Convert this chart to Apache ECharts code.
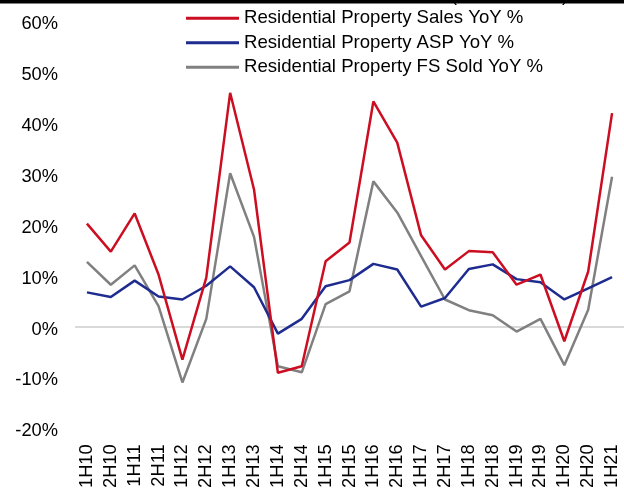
<!DOCTYPE html>
<html>
<head>
<meta charset="utf-8">
<script src="https://cdn.jsdelivr.net/npm/echarts@6/dist/echarts.min.js"></script>
<style>
html,body{margin:0;padding:0;background:#fff;}
#chart{width:624px;height:491px;}
</style>
</head>
<body>
<div id="chart"></div>
<script>
var categories = ['1H10','2H10','1H11','2H11','1H12','2H12','1H13','2H13','1H14','2H14','1H15','2H15','1H16','2H16','1H17','2H17','1H18','2H18','1H19','2H19','1H20','2H20','1H21'];
var salesYoY = [20.2, 14.7, 22.2, 10.2, -6.5, 9.6, 45.9, 26.9, -9.1, -7.8, 12.8, 16.5, 44.2, 36.1, 17.9, 11.2, 14.8, 14.6, 8.2, 10.2, -2.9, 10.8, 41.9];
var aspYoY = [6.7, 5.8, 9.0, 5.9, 5.3, 8.0, 11.8, 7.7, -1.4, 1.5, 7.9, 9.1, 12.3, 11.2, 3.9, 5.6, 11.3, 12.2, 9.3, 8.7, 5.3, 7.5, 9.7];
var fsSoldYoY = [12.7, 8.2, 12.0, 4.0, -11.0, 1.5, 30.1, 17.6, -7.8, -9.0, 4.4, 6.9, 28.5, 22.4, 13.8, 5.3, 3.2, 2.2, -1.0, 1.5, -7.6, 3.3, 29.4];
var seriesNames = ['Residential Property Sales YoY %', 'Residential Property ASP YoY %', 'Residential Property FS Sold YoY %'];
var yTicks = {min: -20, max: 60, interval: 10};

var FONT = 'Liberation Sans, Arial, sans-serif';
var chart = echarts.init(document.getElementById('chart'));
chart.setOption({
  animation: false,
  backgroundColor: '#ffffff',
  textStyle: {fontFamily: FONT},
  graphic: [
    {type: 'rect', left: 0, top: 0, shape: {x: 0, y: 0, width: 624, height: 3.5}, style: {fill: '#000'}, z: 100},
    {type: 'text', x: 451, y: 5, style: {text: '(', font: '18px ' + FONT, fill: '#000', verticalAlign: 'bottom'}},
    {type: 'text', x: 562, y: 5, style: {text: ')', font: '18px ' + FONT, fill: '#000', verticalAlign: 'bottom'}}
  ],
  legend: {
    orient: 'vertical',
    left: 181,
    top: 3,
    itemWidth: 53,
    itemHeight: 3,
    itemGap: 4,
    icon: 'rect',
    textStyle: {fontSize: 18.6, color: '#000', fontFamily: FONT, lineHeight: 20.5},
    data: seriesNames
  },
  grid: {left: 75, right: -3, top: 21, bottom: 62, containLabel: false},
  xAxis: {
    type: 'category',
    data: categories,
    boundaryGap: true,
    axisLine: {show: false},
    axisTick: {show: false},
    axisLabel: {rotate: 90, margin: 16, fontSize: 18.3, color: '#000', fontFamily: FONT, interval: 0}
  },
  yAxis: {
    type: 'value',
    min: yTicks.min,
    max: yTicks.max,
    interval: yTicks.interval,
    axisLine: {show: false},
    axisTick: {show: false},
    splitLine: {show: false},
    axisLabel: {formatter: '{value}%', fontSize: 18.3, color: '#000', margin: 17, fontFamily: FONT, verticalAlign: 'top', lineHeight: 6}
  },
  series: [
    {
      name: seriesNames[0], type: 'line', data: salesYoY, symbol: 'none',
      lineStyle: {color: '#CC0E22', width: 2.5}, itemStyle: {color: '#CC0E22'}, z: 5,
      markLine: {silent: true, symbol: 'none', label: {show: false},
        lineStyle: {color: '#D9D9D9', width: 2, type: 'solid'}, data: [{yAxis: 0}], z: 1}
    },
    {
      name: seriesNames[1], type: 'line', data: aspYoY, symbol: 'none',
      lineStyle: {color: '#1F2C8F', width: 2.5}, itemStyle: {color: '#1F2C8F'}, z: 4
    },
    {
      name: seriesNames[2], type: 'line', data: fsSoldYoY, symbol: 'none',
      lineStyle: {color: '#808080', width: 2.5}, itemStyle: {color: '#808080'}, z: 3
    }
  ]
});
</script>
</body>
</html>
